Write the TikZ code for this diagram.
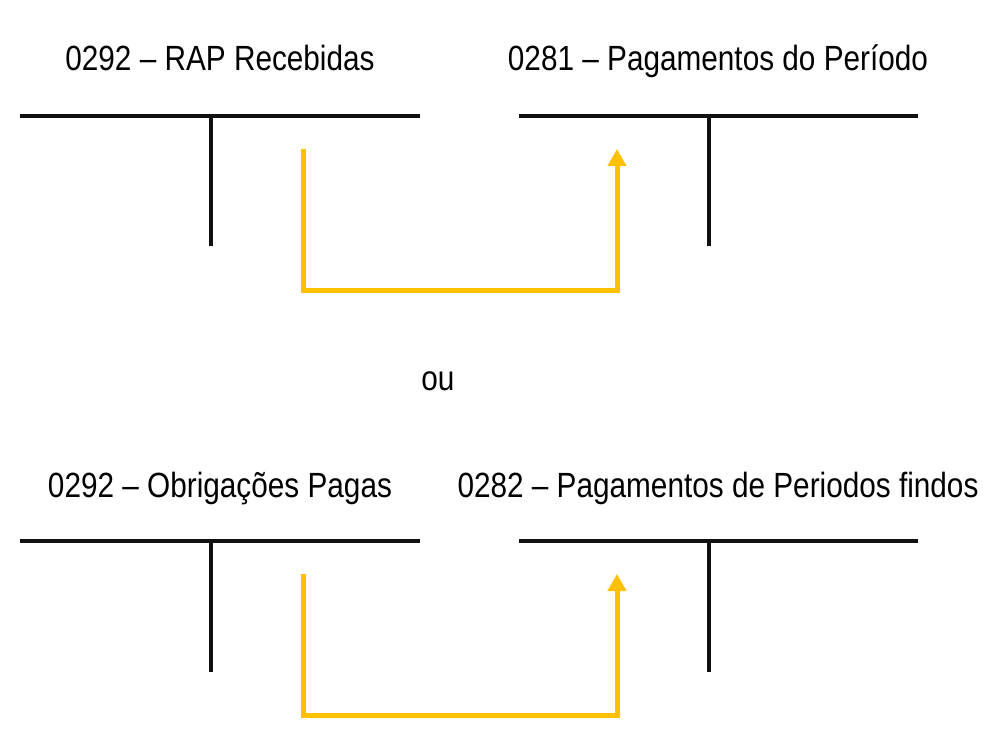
\documentclass[tikz,border=0pt]{standalone}
\usepackage{fontspec}
\setmainfont[FakeStretch=0.85]{Liberation Sans}
\usetikzlibrary{arrows.meta}
\definecolor{tyellow}{HTML}{FFC000}
\definecolor{tblack}{HTML}{111111}
\tikzset{
  lbl/.style={anchor=base, inner sep=0pt, font=\fontsize{35}{40}\selectfont, text=black},
  tline/.style={draw=tblack, line width=4.5pt},
  flow/.style={draw=tyellow, line width=5pt, line join=miter, -{Triangle[width=18pt,length=17pt]}}
}
\begin{document}
\begin{tikzpicture}[x=1pt,y=-1pt]
\useasboundingbox (0,0) rectangle (997,743);
% labels
\node[lbl] (l1) at (220,71) {0292 – RAP Recebidas};
\node[lbl] (l2) at (718,71) {0281 – Pagamentos do Período};
\node[lbl] (ou) at (438,391) {ou};
\node[lbl] (l3) at (220,497) {0292 – Obrigações Pagas};
\node[lbl] (l4) at (718,497) {0282 – Pagamentos de Periodos findos};
% T accounts top
\coordinate (t1l) at (20,116); \coordinate (t1r) at (420,116);
\coordinate (t1s) at (211,116); \coordinate (t1b) at (211,246);
\coordinate (t2l) at (519,116); \coordinate (t2r) at (918,116);
\coordinate (t2s) at (709,116); \coordinate (t2b) at (709,246);
\draw[tline] (t1l) -- (t1r);
\draw[tline] (t1s) -- (t1b);
\draw[tline] (t2l) -- (t2r);
\draw[tline] (t2s) -- (t2b);
% T accounts bottom
\coordinate (t3l) at (20,541); \coordinate (t3r) at (420,541);
\coordinate (t3s) at (211,541); \coordinate (t3b) at (211,672);
\coordinate (t4l) at (519,541); \coordinate (t4r) at (918,541);
\coordinate (t4s) at (709,541); \coordinate (t4b) at (709,672);
\draw[tline] (t3l) -- (t3r);
\draw[tline] (t3s) -- (t3b);
\draw[tline] (t4l) -- (t4r);
\draw[tline] (t4s) -- (t4b);
% yellow flows
\coordinate (f1a) at (303,149); \coordinate (f1b) at (617,149);
\draw[flow] (f1a) |- (617,291) -- (f1b);
\coordinate (f2a) at (303,574); \coordinate (f2b) at (617,574);
\draw[flow] (f2a) |- (617,715) -- (f2b);
\end{tikzpicture}
\end{document}
